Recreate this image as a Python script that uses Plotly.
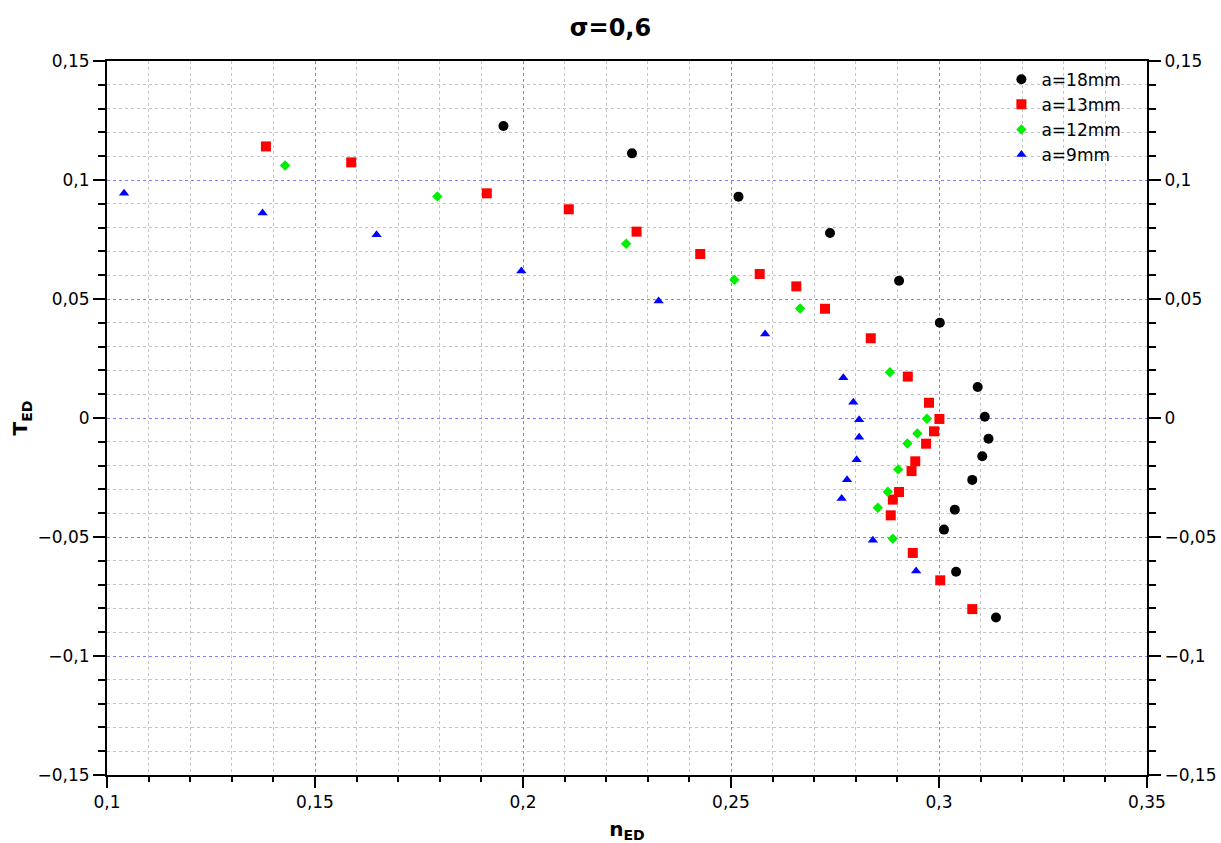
import plotly.graph_objects as go

# a=18mm
x18 = [0.1953, 0.2262, 0.2518, 0.2738, 0.2904, 0.3002, 0.3093, 0.3110, 0.3119, 0.3104, 0.3080, 0.3038, 0.3012, 0.3041, 0.3137]
y18 = [0.1227, 0.1112, 0.0930, 0.0777, 0.0577, 0.0400, 0.0130, 0.0005, -0.0087, -0.0161, -0.0260, -0.0385, -0.0469, -0.0646, -0.0838]
# a=13mm
x13 = [0.1382, 0.1587, 0.1913, 0.2110, 0.2273, 0.2426, 0.2569, 0.2657, 0.2726, 0.2836, 0.2925, 0.2976, 0.3001, 0.2988, 0.2969, 0.2943, 0.2934, 0.2904, 0.2889, 0.2884, 0.2937, 0.3003, 0.3080]
y13 = [0.1141, 0.1074, 0.0944, 0.0877, 0.0783, 0.0689, 0.0605, 0.0553, 0.0459, 0.0335, 0.0174, 0.0064, -0.0004, -0.0056, -0.0108, -0.0182, -0.0223, -0.0311, -0.0343, -0.0409, -0.0567, -0.0682, -0.0803]
# a=12mm
x12 = [0.1428, 0.1794, 0.2248, 0.2508, 0.2666, 0.2882, 0.2971, 0.2948, 0.2924, 0.2902, 0.2877, 0.2853, 0.2889]
y12 = [0.1061, 0.0931, 0.0732, 0.0581, 0.0460, 0.0192, -0.0003, -0.0065, -0.0107, -0.0216, -0.0310, -0.0377, -0.0507]
# a=9mm
x9 = [0.1041, 0.1374, 0.1648, 0.1996, 0.2326, 0.2582, 0.2770, 0.2794, 0.2808, 0.2808, 0.2802, 0.2779, 0.2766, 0.2841, 0.2945]
y9 = [0.0944, 0.0861, 0.0770, 0.0618, 0.0492, 0.0353, 0.0169, 0.0066, -0.0007, -0.0081, -0.0175, -0.0259, -0.0338, -0.0514, -0.0643]

series = [
    ("a=18mm", x18, y18, "circle", "black", 10),
    ("a=13mm", x13, y13, "square", "#ff0000", 10),
    ("a=12mm", x12, y12, "diamond", "#00ee00", 8),
    ("a=9mm", x9, y9, "triangle-up", "#0000ff", 9),
]

FONT = "DejaVu Sans"
fig = go.Figure()
for name, xs, ys, sym, col, sz in series:
    fig.add_trace(go.Scatter(x=xs, y=ys, mode="markers", name=name,
                             marker=dict(symbol=sym, color=col, size=sz, line=dict(width=0))))
# invisible trace to activate right axis
fig.add_trace(go.Scatter(x=[x18[0]], y=[y18[0]], yaxis="y2", mode="markers",
                         marker=dict(opacity=0), showlegend=False, hoverinfo="skip"))

common_minor_grid = dict(showgrid=True, gridcolor="#c4c4c4", griddash="dot", gridwidth=1)

fig.update_layout(
    width=1221, height=843,
    paper_bgcolor="white", plot_bgcolor="white",
    separators=", ",
    font=dict(family=FONT, size=17, color="black"),
    margin=dict(l=107, r=74, t=61, b=68, autoexpand=False),
    title=dict(text="<b>σ=0,6</b>", x=0.5, xanchor="center", y=0.967, yanchor="middle",
               font=dict(family=FONT, size=24)),
    showlegend=True,
    legend=dict(x=0.86, y=0.999, xanchor="left", yanchor="top", bgcolor="rgba(0,0,0,0)",
                font=dict(size=17), itemsizing="trace", tracegroupgap=0),
    xaxis=dict(range=[0.1, 0.35], dtick=0.05, tick0=0.1, showline=True, linecolor="black", linewidth=2,
               mirror=True, ticks="outside", ticklen=11, tickwidth=2, tickcolor="black",
               showgrid=True, gridcolor="#8080ff", griddash="dot", gridwidth=1, zeroline=False,
               minor=dict(dtick=0.01, ticks="outside", ticklen=5, tickwidth=2, tickcolor="black",
                          **common_minor_grid),
               title=dict(text="<b>n<sub>ED</sub></b>", font=dict(size=20), standoff=14)),
    yaxis=dict(range=[-0.15, 0.15], dtick=0.05, tick0=0, showline=True, linecolor="black", linewidth=2,
               ticks="outside", ticklen=12, tickwidth=2, tickcolor="black",
               showgrid=True, gridcolor="#8080ff", griddash="dot", gridwidth=1, zeroline=False,
               minor=dict(dtick=0.01, ticks="outside", ticklen=7, tickwidth=2, tickcolor="black",
                          **common_minor_grid),
               title=dict(text="<b>T<sub>ED</sub></b>", font=dict(size=20), standoff=4)),
    yaxis2=dict(range=[-0.15, 0.15], dtick=0.05, tick0=0, overlaying="y", side="right",
                showline=True, linecolor="black", linewidth=2,
                ticks="outside", ticklen=12, tickwidth=2, tickcolor="black",
                showgrid=False, zeroline=False,
                minor=dict(dtick=0.01, ticks="outside", ticklen=7, tickwidth=2, tickcolor="black", showgrid=False)),
)

fig.write_html("out.html", config={"displayModeBar": False},
               post_script="document.body.style.margin='0';")
